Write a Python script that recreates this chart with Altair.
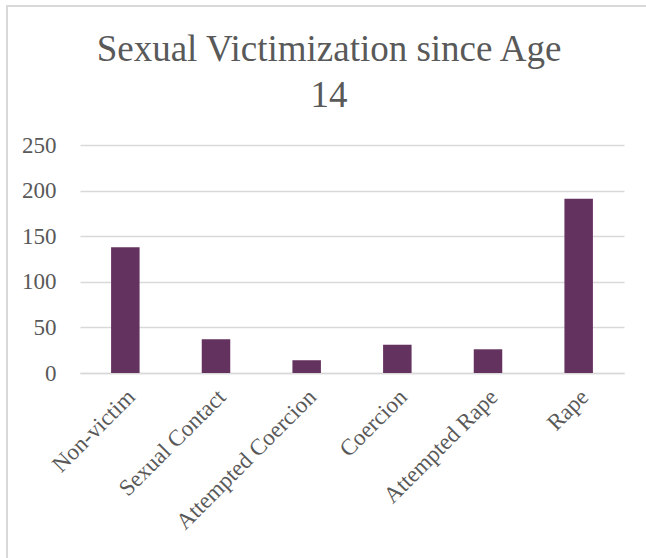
import altair as alt
import pandas as pd

categories = ["Non-victim", "Sexual Contact", "Attempted Coercion", "Coercion", "Attempted Rape", "Rape"]
counts = [138, 37, 14, 31, 26, 191]
title_lines = ["Sexual Victimization since Age", "14"]

df = pd.DataFrame({"category": categories, "count": counts})

FONT = "Liberation Serif"
GRAY = "#595959"
GRID = "#D9D9D9"

bars = alt.Chart(df).mark_bar(size=28.5, color="#64325F").encode(
    x=alt.X("category:N", sort=categories, title=None,
            scale=alt.Scale(paddingInner=0, paddingOuter=0),
            axis=alt.Axis(labelAngle=-45, labelFont=FONT, labelFontSize=23,
                          labelColor=GRAY, ticks=False, domain=True,
                          domainColor=GRID, domainWidth=1.5, labelPadding=20,
                          labelOffset=6, labelAlign="right", labelLimit=400,
                          labelBaseline="middle", grid=False)),
    y=alt.Y("count:Q", title=None,
            scale=alt.Scale(domain=[0, 250]),
            axis=alt.Axis(values=[0, 50, 100, 150, 200, 250], labelFont=FONT,
                          labelFontSize=23, labelColor=GRAY, ticks=False,
                          domain=False, gridColor=GRID, gridWidth=1.5,
                          labelPadding=24)),
)

frame_left = alt.Chart(df).mark_rule(color=GRID, strokeWidth=2).encode(
    x=alt.value(-73), y=alt.value(-139), y2=alt.value(420))
frame_top = alt.Chart(df).mark_rule(color=GRID, strokeWidth=2).encode(
    x=alt.value(-74), x2=alt.value(600), y=alt.value(-139))

title1 = alt.Chart(pd.DataFrame({"t": [title_lines[0]]})).mark_text(
    font=FONT, fontSize=37, color=GRAY, align="center", baseline="alphabetic",
).encode(text="t:N", x=alt.value(249), y=alt.value(-84))
title2 = alt.Chart(pd.DataFrame({"t": [title_lines[1]]})).mark_text(
    font=FONT, fontSize=37, color=GRAY, align="center", baseline="alphabetic",
).encode(text="t:N", x=alt.value(249), y=alt.value(-38))

chart = alt.layer(frame_left, frame_top, title1, title2, bars).properties(
    width=544, height=228,
    autosize=alt.AutoSizeParams(type="none"),
    padding={"left": 80, "top": 145, "right": 22, "bottom": 185},
).configure(font=FONT).configure_view(stroke=None)

chart.save("out.html", embed_options={"renderer": "svg", "actions": False})
